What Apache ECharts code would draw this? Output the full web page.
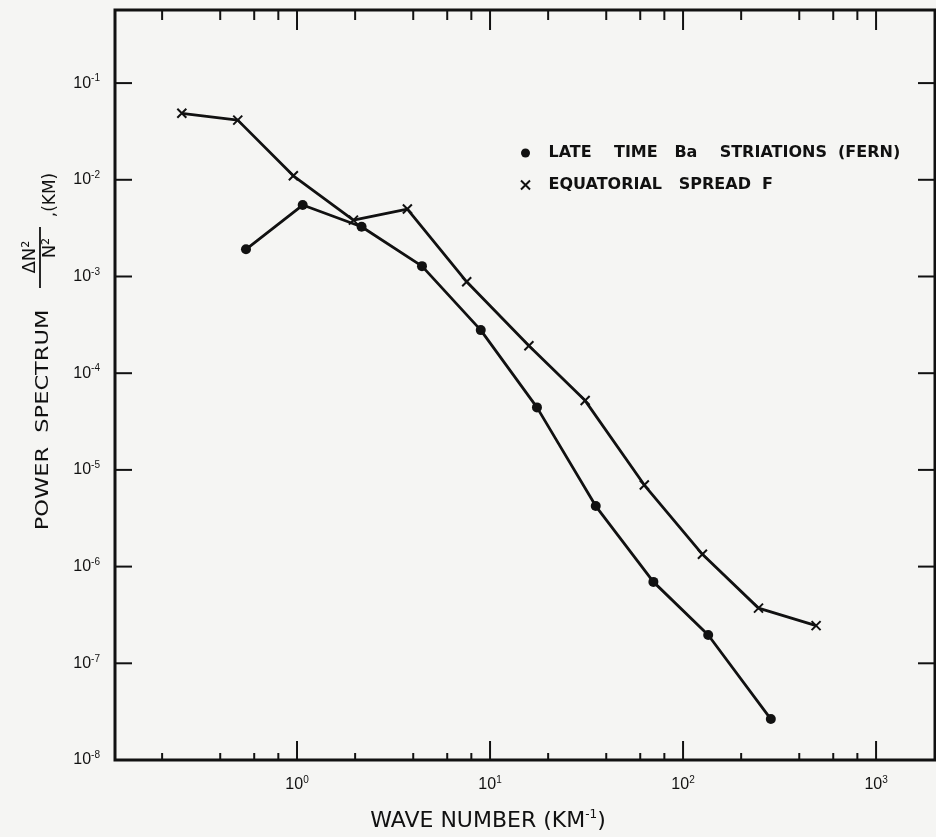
<!DOCTYPE html>
<html>
<head>
<meta charset="utf-8">
<title>Power spectrum</title>
<script src="https://cdn.jsdelivr.net/npm/echarts@6/dist/echarts.min.js"></script>
<style>
  html, body { margin: 0; padding: 0; background: #f5f5f3; }
  #chart { width: 936px; height: 837px; }
</style>
</head>
<body>
<div id="chart"></div>
<script>
// late time Ba striations (FERN): wave number (km^-1) / power spectrum (km)
const fernK = [0.544, 1.07, 2.16, 4.44, 8.95, 17.5, 35.3, 70.2, 135, 285];
const fernP = [1.91e-3, 5.48e-3, 3.27e-3, 1.28e-3, 2.79e-4, 4.43e-5, 4.23e-6, 6.95e-7, 1.96e-7, 2.65e-8];
// equatorial spread F
const esfK = [0.253, 0.493, 0.957, 1.96, 3.73, 7.57, 15.9, 31.1, 63, 126, 246, 489];
const esfP = [0.0487, 0.0414, 0.0110, 3.83e-3, 4.98e-3, 8.81e-4, 1.92e-4, 5.21e-5, 6.97e-6, 1.34e-6, 3.72e-7, 2.45e-7];

const fernName = 'LATE    TIME   Ba    STRIATIONS  (FERN)';
const esfName = 'EQUATORIAL   SPREAD  F';

// tick positions
const xMajorTicks = [1, 10, 100, 1000];
const xMinorTicks = [0.2, 0.4, 0.6, 0.8, 2, 4, 6, 8, 20, 40, 60, 80, 200, 400, 600, 800];
const yMajorTicks = [1e-7, 1e-6, 1e-5, 1e-4, 1e-3, 1e-2, 1e-1];

const xMin = 0.114, xMax = 2020;
const yMin = 1e-8, yMax = 0.57;

const ink = '#111';
const crossPath = 'path://M0,0L10,10M10,0L0,10';
const tickStyle = { stroke: ink, lineWidth: 2 };

function powLabel(v) {
  const l = Math.log10(v);
  const e = Math.round(l);
  if (Math.abs(l - e) > 1e-6) return '';
  return '{b|10}{s|' + e + '}';
}

const labelRich = {
  b: { fontSize: 16, lineHeight: 19, fontFamily: 'Liberation Sans', color: ink },
  s: { fontSize: 10, lineHeight: 11, verticalAlign: 'top', fontFamily: 'Liberation Sans', color: ink }
};

function xTicks(lenBottom, lenTop) {
  return function (params, api) {
    const cs = params.coordSys;
    const x = api.coord([api.value(0), yMin])[0];
    const b = cs.y + cs.height;
    return {
      type: 'group',
      children: [
        { type: 'line', shape: { x1: x, y1: b, x2: x, y2: b - lenBottom }, style: tickStyle },
        { type: 'line', shape: { x1: x, y1: cs.y, x2: x, y2: cs.y + lenTop }, style: tickStyle }
      ]
    };
  };
}

function yTicks(len) {
  return function (params, api) {
    const cs = params.coordSys;
    const y = api.coord([xMin, api.value(1)])[1];
    const r = cs.x + cs.width;
    return {
      type: 'group',
      children: [
        { type: 'line', shape: { x1: cs.x, y1: y, x2: cs.x + len, y2: y }, style: tickStyle },
        { type: 'line', shape: { x1: r, y1: y, x2: r - len, y2: y }, style: tickStyle }
      ]
    };
  };
}

const chart = echarts.init(document.getElementById('chart'));
chart.setOption({
  backgroundColor: '#f5f5f3',
  animation: false,
  grid: {
    left: 115, right: 1, top: 10, bottom: 77,
    show: true, borderColor: ink, borderWidth: 3,
    containLabel: false, outerBoundsMode: 'none'
  },
  legend: {
    orient: 'vertical',
    left: 515, top: 140,
    itemWidth: 36, itemHeight: 9, itemGap: 16,
    selectedMode: false,
    textStyle: { fontFamily: 'DejaVu Sans', fontSize: 16, fontWeight: 'bold', color: ink },
    data: [
      { name: fernName, icon: 'circle', itemStyle: { color: ink } },
      { name: esfName, icon: crossPath, itemStyle: { color: ink, borderColor: ink, borderWidth: 2 } }
    ]
  },
  xAxis: {
    type: 'log', logBase: 10, min: xMin, max: xMax, splitNumber: 5,
    axisLine: { show: false }, axisTick: { show: false }, splitLine: { show: false },
    axisLabel: { margin: 15, formatter: powLabel, rich: labelRich },
    name: '{t|WAVE NUMBER (KM}{s|-1}{t|)}',
    nameLocation: 'middle', nameGap: 49,
    nameTextStyle: {
      padding: [0, 74, 0, 0],
      rich: {
        t: { fontSize: 22, lineHeight: 25, fontFamily: 'DejaVu Sans', color: ink },
        s: { fontSize: 12, lineHeight: 13, verticalAlign: 'top', fontFamily: 'DejaVu Sans', color: ink }
      }
    }
  },
  yAxis: {
    type: 'log', logBase: 10, min: yMin, max: yMax, splitNumber: 8,
    axisLine: { show: false }, axisTick: { show: false }, splitLine: { show: false },
    axisLabel: { margin: 15, formatter: powLabel, rich: labelRich }
  },
  graphic: [
    { type: 'text', x: 43, y: 420, rotation: Math.PI / 2, scaleX: 1.25,
      style: { text: 'POWER  SPECTRUM', fontSize: 18, fontFamily: 'DejaVu Sans', fill: ink, align: 'center', verticalAlign: 'middle' } },
    { type: 'text', x: 30, y: 257, rotation: Math.PI / 2,
      style: { text: 'ΔN²', fontSize: 18, fontFamily: 'DejaVu Sans', fill: ink, align: 'center', verticalAlign: 'middle' } },
    { type: 'line', shape: { x1: 40, y1: 288, x2: 40, y2: 227 }, style: { stroke: ink, lineWidth: 1.8 } },
    { type: 'text', x: 50, y: 248, rotation: Math.PI / 2,
      style: { text: 'N²', fontSize: 18, fontFamily: 'DejaVu Sans', fill: ink, align: 'center', verticalAlign: 'middle' } },
    { type: 'text', x: 51, y: 195, rotation: Math.PI / 2,
      style: { text: ',(KM)', fontSize: 17, fontFamily: 'DejaVu Sans', fill: ink, align: 'center', verticalAlign: 'middle' } }
  ],
  series: [
    {
      name: fernName, type: 'line',
      data: fernK.map((k, i) => [k, fernP[i]]),
      symbol: 'circle', symbolSize: 10, showSymbol: true,
      lineStyle: { color: ink, width: 2.8 },
      itemStyle: { color: ink },
      z: 3
    },
    {
      name: esfName, type: 'line',
      data: esfK.map((k, i) => [k, esfP[i]]),
      symbol: crossPath, symbolSize: 9, showSymbol: true,
      lineStyle: { color: ink, width: 2.8 },
      itemStyle: { color: ink, borderColor: ink, borderWidth: 2 },
      z: 3
    },
    {
      type: 'custom', silent: true, clip: false,
      renderItem: xTicks(19, 20),
      data: xMajorTicks.map(v => [v, yMin])
    },
    {
      type: 'custom', silent: true, clip: false,
      renderItem: xTicks(7, 10),
      data: xMinorTicks.map(v => [v, yMin])
    },
    {
      type: 'custom', silent: true, clip: false,
      renderItem: yTicks(17),
      data: yMajorTicks.map(v => [xMin, v])
    }
  ]
});
</script>
</body>
</html>
